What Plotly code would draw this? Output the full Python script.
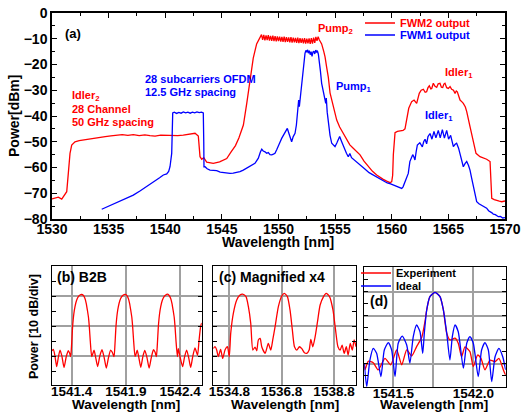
import plotly.graph_objects as go

FONT = "Liberation Sans, Arial, sans-serif"

# ---------------- (a) main spectrum ----------------
red_wl = [1530.0, 1530.3, 1530.56, 1530.86, 1531.15, 1531.3, 1531.44, 1531.59, 1531.74, 1532.03,
          1532.4, 1532.77, 1533.3, 1533.8, 1534.24, 1534.7, 1535.2, 1535.71, 1536.2, 1536.7,
          1537.18, 1537.7, 1538.2, 1538.65, 1539.1, 1539.6, 1540.13, 1540.6, 1541.1, 1541.59,
          1542.1, 1542.63, 1542.92, 1543.07, 1543.22, 1543.4, 1543.66, 1543.95, 1544.24, 1544.8,
          1545.43, 1545.8, 1546.2, 1546.5, 1546.9, 1547.2, 1547.5, 1547.77, 1548.07, 1548.37,
          1548.5, 1548.6, 1548.7, 1548.8, 1548.9, 1549.0, 1549.1, 1549.2, 1549.3, 1549.4,
          1549.5, 1549.6, 1549.7, 1549.8, 1549.9, 1550.0, 1550.1, 1550.2, 1550.3, 1550.4,
          1550.5, 1550.6, 1550.7, 1550.8, 1550.9, 1551.0, 1551.1, 1551.2, 1551.3, 1551.4,
          1551.5, 1551.6, 1551.7, 1551.8, 1551.9, 1552.0, 1552.1, 1552.2, 1552.3, 1552.4,
          1552.5, 1552.6, 1552.7, 1552.8, 1552.9, 1553.0, 1553.1, 1553.2, 1553.3, 1553.4,
          1553.5, 1553.6, 1553.81, 1554.0, 1554.11, 1554.25, 1554.4, 1554.55, 1554.7, 1554.84,
          1555.0, 1555.14, 1555.4, 1555.72, 1556.02, 1556.3, 1556.6, 1556.9, 1557.2, 1557.55,
          1557.93, 1558.3, 1558.67, 1558.95, 1559.25, 1559.55, 1559.85, 1560.0, 1560.08, 1560.14,
          1560.2, 1560.29, 1560.5, 1560.73, 1561.0, 1561.17, 1561.32, 1561.5, 1561.76, 1561.97,
          1562.2, 1562.43, 1562.6, 1562.79, 1562.95, 1563.08, 1563.2, 1563.32, 1563.45, 1563.53,
          1563.67, 1563.82, 1563.97, 1564.1, 1564.26, 1564.38, 1564.5, 1564.6, 1564.7, 1564.85,
          1565.0, 1565.15, 1565.29, 1565.45, 1565.59, 1565.7, 1565.79, 1566.03, 1566.2, 1566.32,
          1566.5, 1566.62, 1566.91, 1567.2, 1567.44, 1567.79, 1568.1, 1568.38, 1568.68, 1568.74,
          1568.83, 1569.05, 1569.27, 1569.5, 1569.71, 1570.0]
red_db = [-72.2, -71.8, -71.5, -72.3, -70.0, -69.4, -62.3, -54.5, -51.3, -50.0,
          -49.6, -49.3, -48.9, -48.6, -48.4, -48.0, -47.7, -47.4, -47.2, -47.5,
          -47.2, -47.6, -47.3, -47.6, -47.8, -47.4, -47.5, -47.3, -47.6, -47.4,
          -47.1, -46.7, -47.8, -55.8, -56.8, -56.2, -57.9, -58.2, -58.4, -57.8,
          -56.5, -54.0, -51.5, -48.5, -43.5, -35.0, -25.0, -17.5, -12.0, -9.5,
          -8.4, -10.4, -8.5, -10.6, -8.7, -10.5, -8.6, -10.7, -8.9, -10.8,
          -8.8, -10.9, -9.0, -11.0, -9.1, -10.9, -9.2, -11.1, -9.3, -11.2,
          -9.2, -11.3, -9.4, -11.2, -9.5, -11.4, -9.4, -11.5, -9.6, -11.4,
          -9.7, -11.6, -9.6, -11.7, -9.8, -11.6, -9.9, -11.8, -9.8, -11.9,
          -10.0, -11.8, -9.9, -12.0, -9.8, -11.9, -9.6, -11.6, -9.3, -10.8,
          -9.2, -10.4, -12.0, -15.0, -17.0, -21.0, -25.0, -31.0, -34.0, -36.4,
          -39.0, -41.6, -44.3, -46.7, -49.3, -51.2, -52.5, -54.0, -55.1, -57.5,
          -59.7, -61.5, -62.9, -63.8, -64.6, -65.3, -65.9, -65.5, -63.0, -55.0,
          -49.3, -46.5, -46.0, -45.8, -45.6, -45.0, -41.5, -37.0, -34.4, -33.8,
          -35.1, -31.2, -30.0, -29.6, -30.8, -30.6, -29.0, -28.3, -29.5, -29.3,
          -27.3, -28.5, -28.9, -27.5, -27.3, -28.8, -28.9, -27.6, -27.3, -29.0,
          -29.3, -28.6, -29.6, -30.0, -31.2, -30.3, -30.6, -33.8, -34.5, -35.1,
          -36.5, -38.3, -44.1, -49.3, -54.5, -55.8, -56.3, -56.8, -57.7, -67.4,
          -72.0, -72.5, -72.9, -73.1, -73.3, -73.0]

blue_wl = [1534.39, 1534.7, 1535.12, 1535.5, 1536.0, 1536.6, 1537.18, 1537.8, 1538.36, 1538.8,
           1539.24, 1539.5, 1539.83, 1540.13, 1540.3, 1540.42, 1540.57, 1540.63, 1540.66, 1540.8,
           1541.0, 1541.2, 1541.4, 1541.6, 1541.8, 1542.0, 1542.2, 1542.4, 1542.6, 1542.8,
           1543.0, 1543.2, 1543.36, 1543.4, 1543.42, 1543.51, 1543.7, 1543.95, 1544.25, 1544.54,
           1544.85, 1545.13, 1545.45, 1545.72, 1546.0, 1546.31, 1546.6, 1546.89, 1547.1, 1547.33,
           1547.63, 1547.92, 1548.05, 1548.22, 1548.4, 1548.52, 1548.65, 1548.81, 1548.95, 1549.1,
           1549.25, 1549.4, 1549.55, 1549.69, 1549.85, 1549.98, 1550.15, 1550.28, 1550.45, 1550.57,
           1550.7, 1550.78, 1550.9, 1551.02, 1551.16, 1551.3, 1551.46, 1551.58, 1551.66, 1551.72,
           1551.78, 1551.84, 1551.95, 1552.05, 1552.12, 1552.19, 1552.27, 1552.34, 1552.42, 1552.49,
           1552.57, 1552.64, 1552.72, 1552.8, 1552.88, 1552.96, 1553.04, 1553.12, 1553.2, 1553.28,
           1553.36, 1553.43, 1553.52, 1553.6, 1553.7, 1553.81, 1553.92, 1554.02, 1554.1, 1554.17,
           1554.22, 1554.3, 1554.4, 1554.55, 1554.7, 1554.85, 1554.99, 1555.15, 1555.28, 1555.4,
           1555.58, 1555.72, 1555.87, 1556.0, 1556.16, 1556.3, 1556.45, 1556.6, 1556.9, 1557.2,
           1557.6, 1558.0, 1558.4, 1558.7, 1559.0, 1559.3, 1559.6, 1559.9, 1560.14, 1560.5,
           1560.88, 1561.0, 1561.17, 1561.3, 1561.46, 1561.6, 1561.72, 1561.85, 1561.95, 1562.05,
           1562.15, 1562.26, 1562.48, 1562.7, 1562.82, 1562.94, 1563.08, 1563.2, 1563.38, 1563.55,
           1563.73, 1563.9, 1564.11, 1564.28, 1564.47, 1564.65, 1564.85, 1565.02, 1565.2, 1565.32,
           1565.44, 1565.6, 1565.73, 1565.9, 1566.03, 1566.2, 1566.32, 1566.47, 1566.62, 1566.78,
           1566.91, 1567.05, 1567.2, 1567.35, 1567.5, 1567.7, 1567.94, 1568.15, 1568.38, 1568.55,
           1568.68, 1568.85, 1568.97, 1569.15, 1569.41, 1569.6, 1569.8, 1570.0]
blue_db = [-76.2, -75.6, -75.0, -74.2, -73.3, -72.0, -70.7, -69.0, -67.4, -66.2,
           -64.9, -64.0, -62.9, -62.5, -61.5, -59.7, -54.5, -45.0, -38.8, -38.5,
           -39.0, -38.6, -38.9, -38.4, -38.8, -38.5, -38.9, -38.5, -38.8, -38.4,
           -38.7, -38.5, -38.8, -50.0, -59.7, -59.7, -60.5, -61.0, -61.0, -61.2,
           -61.8, -62.0, -62.3, -62.3, -62.2, -62.0, -61.6, -61.0, -60.5, -59.7,
           -59.0, -58.4, -57.5, -56.4, -54.0, -52.9, -53.6, -53.9, -54.5, -54.2,
           -55.0, -55.1, -54.8, -54.5, -53.0, -51.9, -50.0, -48.7, -47.5, -46.7,
           -45.5, -44.8, -46.5, -48.0, -50.0, -48.0, -46.7, -43.5, -40.3, -36.5,
           -33.8, -36.4, -32.0, -28.6, -24.5, -20.8, -17.5, -15.7, -14.5, -15.2,
           -14.3, -15.6, -14.6, -16.2, -15.0, -16.8, -15.2, -14.8, -15.9, -14.4,
           -15.3, -14.6, -16.0, -18.3, -22.5, -27.3, -29.5, -30.6, -33.5, -35.1,
           -33.0, -38.5, -43.0, -47.5, -50.6, -51.5, -51.9, -50.5, -49.1, -48.0,
           -50.0, -51.8, -53.2, -54.5, -55.8, -54.6, -56.2, -56.8, -58.0, -59.0,
           -60.5, -62.0, -63.0, -63.6, -64.5, -65.4, -66.0, -66.4, -66.8, -67.5,
           -68.1, -67.5, -65.5, -64.5, -62.3, -57.7, -56.0, -55.0, -55.8, -57.1,
           -54.0, -51.3, -50.4, -52.0, -50.0, -49.0, -50.8, -48.0, -46.8, -49.0,
           -46.0, -48.5, -45.6, -48.5, -45.3, -48.6, -45.6, -49.0, -47.5, -49.5,
           -51.9, -51.0, -50.6, -52.5, -54.5, -57.5, -59.7, -58.5, -57.7, -59.2,
           -61.0, -64.0, -67.4, -70.5, -73.3, -74.1, -74.6, -75.3, -75.8, -76.8,
           -77.1, -77.6, -78.1, -78.3, -79.1, -79.0, -79.6, -79.5]

# ---------------- (b) B2B ----------------
b2b_wl = [1541.216, 1541.231, 1541.246, 1541.262, 1541.278, 1541.293, 1541.31, 1541.33, 1541.35, 1541.369,
          1541.381, 1541.391, 1541.400, 1541.409, 1541.420, 1541.431, 1541.445, 1541.462, 1541.477, 1541.492,
          1541.507, 1541.523, 1541.535, 1541.545, 1541.555, 1541.563, 1541.572, 1541.585, 1541.595, 1541.607,
          1541.622, 1541.640, 1541.660, 1541.680, 1541.700, 1541.720, 1541.740, 1541.760, 1541.775, 1541.791,
          1541.800, 1541.809, 1541.820, 1541.831, 1541.845, 1541.862, 1541.877, 1541.892, 1541.907, 1541.923,
          1541.935, 1541.945, 1541.955, 1541.963, 1541.972, 1541.985, 1541.995, 1542.005, 1542.020, 1542.038,
          1542.058, 1542.075, 1542.095, 1542.115, 1542.135, 1542.155, 1542.170, 1542.182, 1542.191, 1542.200,
          1542.211, 1542.222, 1542.236, 1542.253, 1542.268, 1542.283, 1542.298, 1542.314, 1542.326, 1542.336,
          1542.346, 1542.354, 1542.363, 1542.376, 1542.384, 1542.400, 1542.424, 1542.442, 1542.461, 1542.480,
          1542.498, 1542.518, 1542.538, 1542.550, 1542.562, 1542.575, 1542.590, 1542.600]
b2b_db = [-36.5, -35.6, -40.0, -47.1, -40.5, -36.0, -40.0, -47.6, -40.5, -36.4,
          -38.0, -40.4, -32.0, -20.4, -12.0, -7.1, -3.0, -0.4, 0.7, 1.0,
          0.5, -1.6, -5.0, -9.3, -14.0, -20.4, -30.0, -40.4, -38.5, -36.0,
          -41.0, -47.0, -40.0, -35.8, -41.0, -48.0, -41.0, -36.0, -37.5, -40.4,
          -32.0, -20.4, -12.0, -7.1, -3.0, -0.4, 0.7, 1.1, 0.5, -1.6,
          -5.0, -9.3, -14.0, -20.4, -30.0, -40.4, -38.5, -36.0, -41.0, -47.5,
          -40.0, -36.2, -41.0, -48.0, -41.0, -35.8, -37.5, -40.4, -32.0, -20.4,
          -12.0, -7.1, -3.0, -0.4, 0.7, 1.2, 0.5, -1.6, -5.0, -9.3,
          -14.0, -20.4, -30.0, -40.4, -35.0, -40.5, -47.1, -40.5, -36.0, -41.0,
          -47.6, -40.0, -34.5, -37.0, -39.5, -30.0, -20.4, -18.0]

# ---------------- (c) Magnified x4 ----------------
mag_wl = [1534.19, 1534.255, 1534.32, 1534.38, 1534.47, 1534.55, 1534.64, 1534.73, 1534.80, 1534.855,
          1534.955, 1535.085, 1535.21, 1535.31, 1535.44, 1535.53, 1535.62, 1535.70, 1535.785, 1535.85,
          1535.91, 1535.98, 1536.04, 1536.17, 1536.29, 1536.385, 1536.46, 1536.55, 1536.675, 1536.805,
          1536.905, 1537.02, 1537.12, 1537.21, 1537.29, 1537.38, 1537.48, 1537.57, 1537.67, 1537.76,
          1537.85, 1537.915, 1537.99, 1538.08, 1538.17, 1538.27, 1538.40, 1538.50, 1538.63, 1538.76,
          1538.86, 1538.95, 1539.035, 1539.11, 1539.19, 1539.27, 1539.34, 1539.42, 1539.5, 1539.57,
          1539.64]
mag_db = [-35.0, -33.8, -36.0, -40.4, -35.6, -41.6, -35.8, -33.8, -40.4, -24.9,
          -11.6, -2.7, 0.7, 1.3, -0.4, -7.1, -18.2, -36.0, -34.0, -36.5,
          -29.3, -28.2, -33.8, -38.2, -31.6, -36.0, -29.3, -20.4, -7.1, 0.0,
          1.8, -0.4, -9.3, -22.7, -33.8, -36.0, -33.8, -35.1, -37.8, -38.2,
          -36.0, -28.9, -33.8, -27.1, -17.1, -6.0, -0.4, 1.8, -0.4, -9.3,
          -22.7, -33.8, -36.0, -32.7, -38.2, -33.8, -39.3, -31.6, -36.0, -29.3,
          -33.8]

# ---------------- (d) experiment vs ideal ----------------
exp_wl = [1541.319, 1541.323, 1541.344, 1541.375, 1541.406, 1541.448, 1541.484, 1541.521, 1541.553, 1541.584,
          1541.615, 1541.646, 1541.678, 1541.698, 1541.709, 1541.729, 1541.761, 1541.792, 1541.813, 1541.834,
          1541.854, 1541.886, 1541.906, 1541.927, 1541.948, 1541.979, 1542.0, 1542.027, 1542.048, 1542.073,
          1542.104, 1542.136, 1542.16, 1542.188, 1542.202]
exp_db = [-29.8, -32.6, -29.0, -29.6, -32.6, -27.8, -30.5, -24.3, -30.5, -24.3,
          -26.8, -22.9, -19.0, -12.5, -7.6, -2.1, -0.3, -2.1, -7.6, -17.3,
          -20.1, -19.4, -21.5, -27.1, -23.0, -25.0, -31.2, -26.4, -27.8, -32.6,
          -28.5, -29.2, -27.8, -32.6, -34.7]

ideal_wl = [1541.319, 1541.334, 1541.354, 1541.375, 1541.396, 1541.423, 1541.444, 1541.469, 1541.49, 1541.511,
            1541.531, 1541.556, 1541.584, 1541.604, 1541.625, 1541.646, 1541.667, 1541.684, 1541.694, 1541.709,
            1541.729, 1541.761, 1541.792, 1541.813, 1541.834, 1541.854, 1541.869, 1541.886, 1541.906, 1541.938,
            1541.959, 1541.979, 1542.0, 1542.031, 1542.052, 1542.073, 1542.094, 1542.115, 1542.136, 1542.16,
            1542.184, 1542.202]
ideal_db = [-29.8, -39.6, -28.5, -23.6, -25.7, -35.4, -24.3, -21.2, -24.3, -35.4,
            -21.5, -18.5, -22.2, -29.8, -18.7, -13.9, -16.7, -25.7, -17.3, -7.6,
            -2.1, -0.3, -2.1, -7.6, -17.3, -28.5, -18.7, -13.9, -16.7, -31.9,
            -21.5, -18.7, -21.5, -35.4, -24.3, -21.2, -24.3, -37.5, -27.1, -23.6,
            -27.1, -32.6]

# tick labels
main_x_ticks = [1530, 1535, 1540, 1545, 1550, 1555, 1560, 1565, 1570]
b_ticks = [1541.4, 1541.9, 1542.4]
c_ticks = [1534.8, 1536.8, 1538.8]
d_ticks = [1541.5, 1541.75, 1542.0]
d_ticktext = ["1541.5", " ", "1542.0"]

W, H = 521, 412
RED = "#ff0000"
BLUE = "#0000ff"
GRID = "#a0a0a0"


def px_x(p):
    return p / W


def px_y(p):
    return 1 - p / H


fig = go.Figure()
fig.add_trace(go.Scatter(x=red_wl, y=red_db, mode="lines", line=dict(color=RED, width=1.3),
                         name="<span style='color:#ff0000'>FWM2 output</span>", xaxis="x", yaxis="y",
                         legend="legend"))
fig.add_trace(go.Scatter(x=blue_wl, y=blue_db, mode="lines", line=dict(color=BLUE, width=1.3),
                         name="<span style='color:#0000ff'>FWM1 output</span>", xaxis="x", yaxis="y",
                         legend="legend3"))
fig.add_trace(go.Scatter(x=b2b_wl, y=b2b_db, mode="lines", line=dict(color=RED, width=1.3, shape="spline", smoothing=0.6),
                         showlegend=False, xaxis="x2", yaxis="y2"))
fig.add_trace(go.Scatter(x=mag_wl, y=mag_db, mode="lines", line=dict(color=RED, width=1.3, shape="spline", smoothing=0.6),
                         showlegend=False, xaxis="x3", yaxis="y3"))
fig.add_trace(go.Scatter(x=exp_wl, y=exp_db, mode="lines", line=dict(color=RED, width=1.3, shape="spline", smoothing=0.6),
                         name="Experiment", xaxis="x4", yaxis="y4", legend="legend2"))
fig.add_trace(go.Scatter(x=ideal_wl, y=ideal_db, mode="lines", line=dict(color=BLUE, width=1.3, shape="spline", smoothing=0.6),
                         name="Ideal", xaxis="x4", yaxis="y4", legend="legend4"))

tickfont14 = dict(family=FONT, size=14, color="black", weight="bold")
tickfont13 = dict(family=FONT, size=13.5, color="black", weight="bold")
common_line = dict(showline=True, linecolor="black", mirror="ticks", zeroline=False, automargin=False)


def leg(xpx, ypx, size=11):
    return dict(x=px_x(xpx), y=px_y(ypx), xanchor="left", yanchor="middle", bgcolor="rgba(0,0,0,0)",
                borderwidth=0, font=dict(family=FONT, size=size, color="black", weight="bold"),
                itemwidth=30, tracegroupgap=0)


fig.update_layout(
    template="none",
    width=W, height=H,
    margin=dict(l=0, r=0, t=0, b=0, pad=0, autoexpand=False),
    paper_bgcolor="white", plot_bgcolor="white",
    font=dict(family=FONT, color="black"),
    xaxis=dict(domain=[px_x(52), px_x(505)], range=[1530, 1570], tickvals=main_x_ticks,
               ticks="inside", ticklen=5, tickcolor="black", linewidth=1.5, showgrid=False,
               tickfont=tickfont14, anchor="y", ticklabelstandoff=-4,
               minor=dict(dtick=2.5, tick0=1530, ticks="inside", ticklen=3, tickcolor="black", showgrid=False),
               **common_line),
    yaxis=dict(domain=[px_y(219), px_y(13)], range=[-80, 0], dtick=10, tick0=0,
               ticks="inside", ticklen=5, tickcolor="black", linewidth=1.5, showgrid=False,
               tickfont=tickfont14, anchor="x",
               minor=dict(dtick=5, tick0=0, ticks="inside", ticklen=3, tickcolor="black", showgrid=False),
               **common_line),
    xaxis2=dict(domain=[px_x(51.7), px_x(201.7)], range=[1541.216, 1542.6], tickvals=b_ticks,
                ticktext=[f"{v:.1f}" for v in b_ticks], ticks="", showgrid=True, gridcolor=GRID, gridwidth=1.5,
                tickfont=tickfont13, anchor="y2", linewidth=1, ticklabelstandoff=-6, **common_line),
    yaxis2=dict(domain=[px_y(385), px_y(266)], range=[-59.3, 20], tickvals=[0, -20, -40], showticklabels=False,
                ticks="inside", ticklen=4, tickcolor="black", showgrid=True, gridcolor=GRID, gridwidth=1.5,
                minor=dict(tickvals=[10, -10, -30, -50], ticks="inside", ticklen=4, tickcolor="black", showgrid=False),
                anchor="x2", linewidth=1, **common_line),
    xaxis3=dict(domain=[px_x(213.3), px_x(356)], range=[1534.19, 1539.64], tickvals=c_ticks,
                ticktext=[f"{v:.1f}" for v in c_ticks], ticks="", showgrid=True, gridcolor=GRID, gridwidth=1.5,
                tickfont=tickfont13, anchor="y3", linewidth=1, ticklabelstandoff=-6, **common_line),
    yaxis3=dict(domain=[px_y(385), px_y(266)], range=[-59.3, 20], tickvals=[0, -20, -40], showticklabels=False,
                ticks="inside", ticklen=4, tickcolor="black", showgrid=True, gridcolor=GRID, gridwidth=1.5,
                minor=dict(tickvals=[10, -10, -30, -50], ticks="inside", ticklen=4, tickcolor="black", showgrid=False),
                anchor="x3", linewidth=1, **common_line),
    xaxis4=dict(domain=[px_x(364.3), px_x(505.7)], range=[1541.319, 1542.2025], tickvals=d_ticks,
                ticktext=d_ticktext, ticks="", showgrid=True, gridcolor=GRID, gridwidth=1.5,
                tickfont=tickfont13, anchor="y4", linewidth=1, ticklabelstandoff=-6, **common_line),
    yaxis4=dict(domain=[px_y(386.7), px_y(266.7)], range=[-39.6, 10.4], tickvals=[0, -10, -20, -30],
                showticklabels=False, ticks="inside", ticklen=4, tickcolor="black",
                showgrid=True, gridcolor=GRID, gridwidth=1.5,
                minor=dict(tickvals=[5, -5, -15, -25, -35], ticks="inside", ticklen=4, tickcolor="black", showgrid=False),
                anchor="x4", linewidth=1, **common_line),
    legend=leg(360, 23),
    legend3=leg(360, 35),
    legend2=leg(356, 273),
    legend4=leg(356, 286),
)


def ann(text, x, y, size=11, color="black", xanchor="center", ref="data", angle=0, axis=("x", "y")):
    if ref == "data":
        xr, yr = axis
    else:
        xr, yr = "paper", "paper"
    fig.add_annotation(text=text, x=x, y=y, xref=xr, yref=yr, showarrow=False, xanchor=xanchor,
                       yanchor="middle", textangle=angle,
                       font=dict(family=FONT, size=size, color=color, weight="bold"))


# (a) panel texts (data coordinates)
ann("(a)", 1530.97, -7.8, size=13, xanchor="left")
ann("Pump<sub>2</sub>", 1554.99, -6.2, color=RED)
ann("Idler<sub>2</sub>", 1531.59, -32.4, color=RED, xanchor="left")
ann("28 Channel", 1531.59, -37.4, color=RED, xanchor="left")
ann("50 GHz spacing", 1531.59, -42.3, color=RED, xanchor="left")
ann("28 subcarriers OFDM", 1538.04, -25.6, color=BLUE, xanchor="left")
ann("12.5 GHz spacing", 1538.04, -30.7, color=BLUE, xanchor="left")
ann("Pump<sub>1</sub>", 1556.67, -28.7, color=BLUE)
ann("Idler<sub>1</sub>", 1565.94, -23.3, color=RED)
ann("Idler<sub>1</sub>", 1564.13, -40.0, color=BLUE)

# axis titles & panel labels (paper coordinates)
ann("Wavelength [nm]", px_x(278), px_y(242), size=14, ref="paper")
ann("Power[dBm]", px_x(14), px_y(116), size=14, ref="paper", angle=-90)
ann("Power [10 dB/div]", px_x(34), px_y(327), size=12.5, ref="paper", angle=-90)
ann("Wavelength [nm]", px_x(126), px_y(404), size=13.5, ref="paper")
ann("Wavelength [nm]", px_x(285), px_y(404), size=13.5, ref="paper")
ann("Wavelength [nm]", px_x(434), px_y(404), size=13.5, ref="paper")
ann("(b) B2B", px_x(55), px_y(277), size=14, ref="paper", xanchor="left")
ann("(c) Magnified x4", px_x(217), px_y(277), size=14, ref="paper", xanchor="left")
ann("(d)", px_x(368), px_y(301), size=14, ref="paper", xanchor="left")

fig.write_html("out.html", config={"displayModeBar": False},
               post_script="document.body.style.margin='0';document.body.style.padding='0';"
                           "document.body.style.overflow='hidden';")
